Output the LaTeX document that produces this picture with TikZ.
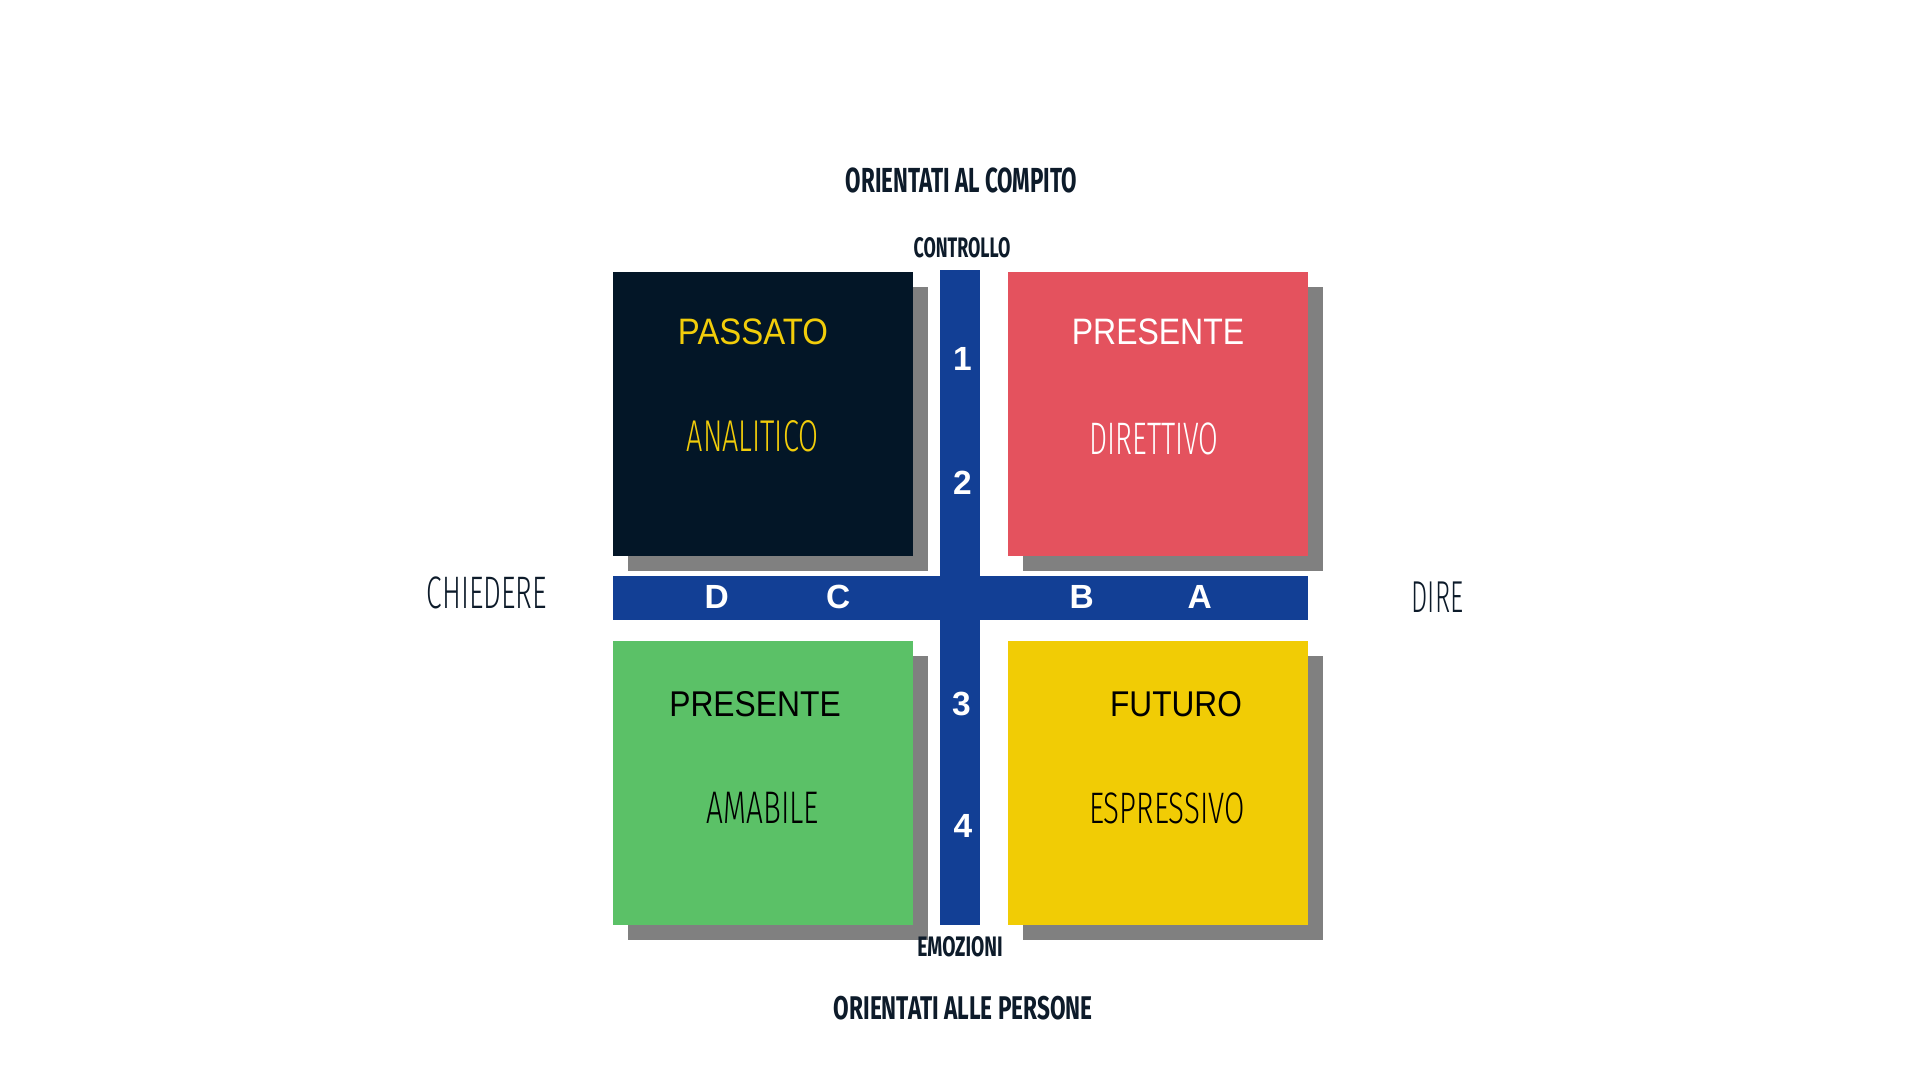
\documentclass[tikz,border=0pt]{standalone}
\usepackage{fontspec}
\setmainfont{Liberation Sans}
\newfontfamily\condf{Fira Sans}
\newfontfamily\thinf{Fira Sans Light}
\usepackage{graphicx}
\usetikzlibrary{shadows}
\definecolor{darkbox}{HTML}{031627}
\definecolor{redbox}{HTML}{E4525E}
\definecolor{greenbox}{HTML}{5BC167}
\definecolor{yellowbox}{HTML}{F1CC05}
\definecolor{barblue}{HTML}{123F95}
\definecolor{shadowgray}{HTML}{808080}
\definecolor{textdark}{HTML}{0D1B2A}
\definecolor{textyellow}{HTML}{F2CD0A}
\newcommand{\fitbox}[3]{\resizebox{#1pt}{#2pt}{#3}}
\begin{document}
\begin{tikzpicture}[x=1pt,y=-1pt,
  quad/.style={rectangle, minimum width=300pt, minimum height=284pt, inner sep=0pt,
    drop shadow={shadow xshift=15pt, shadow yshift=-15pt, fill=shadowgray, opacity=1}},
  bar/.style={rectangle, fill=barblue, inner sep=0pt},
  lbl/.style={inner sep=0pt, anchor=center},
  num/.style={inner sep=0pt, anchor=center, text=white, font=\fontsize{33.5}{36}\selectfont\bfseries}]
\fill[white] (0,0) rectangle (1920,1080);
\useasboundingbox (0,0) rectangle (1920,1080);
% quadrants
\node[quad, fill=darkbox] (qa) at (763,414) {};
\node[quad, fill=redbox] (qb) at (1158,414) {};
\node[quad, fill=greenbox] (qc) at (763,783) {};
\node[quad, fill=yellowbox] (qd) at (1158,783) {};
% bars
\node[bar, minimum width=40pt, minimum height=655pt] (vbar) at (960,597.5) {};
\node[bar, minimum width=695pt, minimum height=44pt] (hbar) at (960.5,598) {};
% quadrant texts
\node[lbl, text=textyellow] (ta1) at (753,332) {\fitbox{150}{25.7}{PASSATO}};
\node[lbl, text=textyellow] (ta2) at (752.5,436) {\fitbox{131.6}{31}{\thinf ANALITICO}};
\node[lbl, text=white] (tb1) at (1158,332) {\fitbox{172.3}{25.7}{PRESENTE}};
\node[lbl, text=white] (tb2) at (1154,439) {\fitbox{129}{31.7}{\thinf DIRETTIVO}};
\node[lbl, text=black] (tc1) at (755,704) {\fitbox{171.4}{25}{PRESENTE}};
\node[lbl, text=black] (tc2) at (763,808) {\fitbox{112.3}{31.3}{\thinf AMABILE}};
\node[lbl, text=black] (td1) at (1176,704) {\fitbox{131.7}{25}{FUTURO}};
\node[lbl, text=black] (td2) at (1167,808) {\fitbox{155.7}{30.7}{\thinf ESPRESSIVO}};
% numbers and letters
\node[num] (n1) at (962.5,358.7) {1};
\node[num] (n2) at (962.5,482.5) {2};
\node[num] (n3) at (961.5,704) {3};
\node[num] (n4) at (963,825.5) {4};
\node[num] (lD) at (716.7,597) {D};
\node[num] (lC) at (838.3,597) {C};
\node[num] (lB) at (1081.7,597) {B};
\node[num] (lA) at (1199.7,597) {A};
% axis labels
\node[lbl, text=textdark] (top) at (961.5,180.5) {\fitbox{231}{24.7}{\condf\bfseries ORIENTATI AL COMPITO}};
\node[lbl, text=textdark] (ctrl) at (962,247.3) {\fitbox{96.7}{20}{\condf\bfseries CONTROLLO}};
\node[lbl, text=textdark] (emo) at (960,946.7) {\fitbox{85.4}{20}{\condf\bfseries EMOZIONI}};
\node[lbl, text=textdark] (bot) at (963.3,1007.7) {\fitbox{258.7}{23.3}{\condf\bfseries ORIENTATI ALLE PERSONE}};
\node[lbl, text=textdark] (left) at (486.7,593.2) {\fitbox{120}{31.7}{\thinf CHIEDERE}};
\node[lbl, text=textdark] (right) at (1437.5,597) {\fitbox{51.6}{30.6}{\thinf DIRE}};
\end{tikzpicture}
\end{document}
